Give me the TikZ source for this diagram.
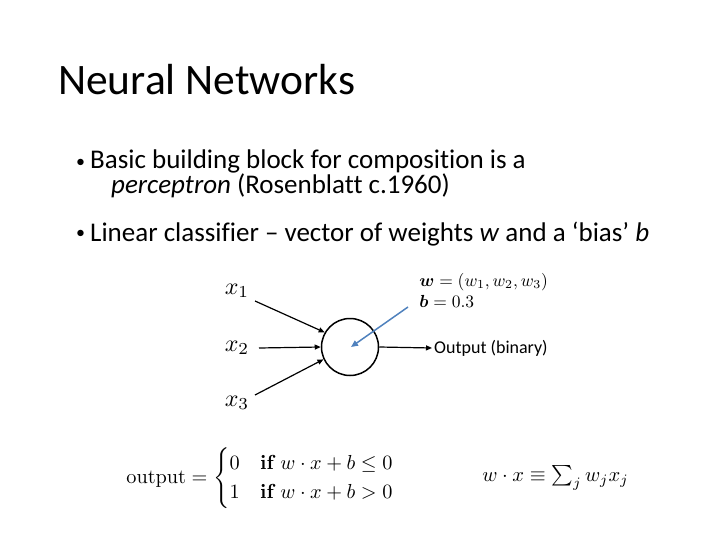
\documentclass[tikz,border=0pt]{standalone}
\usepackage{amsmath}
\usepackage{bm}
\usepackage[no-math]{fontspec}
\setmainfont[Ligatures={NoCommon}]{Carlito}
\usetikzlibrary{arrows.meta}
\definecolor{steel}{RGB}{79,129,189}
\begin{document}
\begin{tikzpicture}[x=1pt,y=-1pt,
  conn/.style={draw=black,line width=1.2pt,-{Triangle[length=6pt,width=5pt]}},
  blueconn/.style={draw=steel,line width=1.5pt,-{Triangle[length=7pt,width=6pt]}},
  mathlbl/.style={inner sep=0pt,scale=2.4},
  bulletmark/.style={anchor=base west,inner sep=0pt,font=\fontsize{18}{20}\selectfont},
  bullet/.style={anchor=base west,inner sep=0pt,align=left,font=\fontsize{27}{24}\selectfont}]
\useasboundingbox (0,0) rectangle (720,540);
% title
\node[anchor=base west,inner sep=0pt,font=\fontsize{43.5}{48}\selectfont] (title) at (58,95) {Neural Networks};
% bullets
\node[bulletmark] (b1) at (76,168) {•};
\node[bullet] (t1) at (90,194) {Basic building block for composition is a\\\hspace*{21pt}\textit{perceptron} (Rosenblatt c.1960)};
\node[bulletmark] (b2) at (76,239) {•};
\node[bullet] (t2) at (90,241) {Linear classifier – vector of weights \textit{w} and a ‘bias’ \textit{b}};
% perceptron
\node[circle,draw,line width=1.5pt,minimum size=57pt,inner sep=0pt] (n) at (350,347) {};
\coordinate (c) at (351,347);
\node[mathlbl] (x1) at (237,291) {$x_1$};
\node[mathlbl] (x2) at (237,348) {$x_2$};
\node[mathlbl] (x3) at (237,403) {$x_3$};
\coordinate (s1) at (255,301);
\coordinate (s2) at (259,348);
\coordinate (s3) at (255,395);
\draw[conn] (s1) -- (n.150);
\draw[conn] (s2) -- (n.west);
\draw[conn] (s3) -- (n.205);
\coordinate (o) at (432,348);
\draw[conn] (n.east) -- (o);
\node[anchor=west,inner sep=0pt,font=\fontsize{18}{20}\selectfont] (out) at (434,348) {Output (binary)};
\node[anchor=base west,inner sep=0pt,scale=1.75] (w) at (419,286) {$\bm{w} = (w_1, w_2, w_3)$};
\node[anchor=base west,inner sep=0pt,scale=1.75] (b) at (419,307) {$\bm{b} = 0.3$};
\coordinate (bs) at (408,307);
\draw[blueconn] (bs) -- (c);
% formulas
\node[anchor=west,inner sep=0pt,scale=2.03] (f1) at (126,478) {$\mathrm{output} = \begin{cases} 0 & \mathbf{if}\ w\cdot x + b \le 0 \\ 1 & \mathbf{if}\ w\cdot x + b > 0\end{cases}$};
\node[anchor=west,inner sep=0pt,scale=2.05] (f2) at (482,478) {$w\cdot x \equiv \sum_j w_j x_j$};
\end{tikzpicture}
\end{document}
